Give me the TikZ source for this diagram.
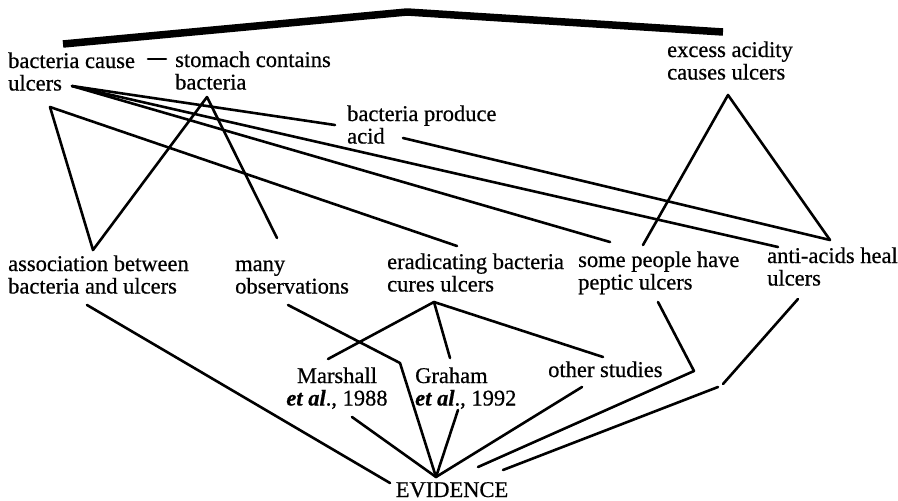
\documentclass[tikz,border=0pt]{standalone}
\usepackage{fontspec}
\setmainfont{Liberation Serif}[FakeBold=0.6]
\newcommand\twoline[2]{\begin{tabular}[t]{@{}l@{}}#1\\#2\end{tabular}}
\newcommand\twolinec[2]{\begin{tabular}[t]{@{}c@{}}#1\\#2\end{tabular}}
\newcommand\myetal{\textbf{\textit{et al}}.}
\begin{document}
\begin{tikzpicture}[x=1pt,y=-1pt,
  lbl/.style={inner sep=0pt, anchor=base west, font=\fontsize{22.5}{22.5}\selectfont},
  lblc/.style={lbl, anchor=base},
  link/.style={line width=2.6pt, line cap=round, line join=round},
  bar/.style={line width=7.5pt, line join=round}]
\useasboundingbox (0,0) rectangle (898,501);
% nodes
\node[lbl] (bc) at (8,68) {\twoline{bacteria cause}{ulcers}};
\node[lbl] (sc) at (175,67) {\twoline{stomach contains}{bacteria}};
\node[lbl] (bp) at (347,121) {\twoline{bacteria produce}{acid}};
\node[lbl] (ea) at (667,57) {\twoline{excess acidity}{causes ulcers}};
\node[lbl] (as) at (8,271) {\twoline{association between}{bacteria and ulcers}};
\node[lbl] (mo) at (235,271) {\twoline{many}{observations}};
\node[lbl] (er) at (387,269) {\twoline{eradicating bacteria}{cures ulcers}};
\node[lbl] (sp) at (578,267) {\twoline{some people have}{peptic ulcers}};
\node[lbl] (aa) at (767,263) {\twoline{anti-acids heal}{ulcers}};
\node[lblc] (ms) at (337,383) {\twolinec{Marshall}{\myetal, 1988}};
\node[lbl] (gr) at (415,383) {\twoline{Graham}{\myetal, 1992}};
\node[lbl] (os) at (548,377) {other studies};
\node[lblc] (ev) at (452,497) {EVIDENCE};
% attachment points
\coordinate (bcR) at ([shift={(64,18)}]bc.base west);
\coordinate (bcD) at ([shift={(42,39)}]bc.base west);
\coordinate (bcS) at ([shift={(140,-9)}]bc.base west);
\coordinate (scL) at ([shift={(-9,-8)}]sc.base west);
\coordinate (scD) at ([shift={(32,30)}]sc.base west);
\coordinate (bpL) at ([shift={(-12,4)}]bp.base west);
\coordinate (bpR) at ([shift={(56,17)}]bp.base west);
\coordinate (eaD) at ([shift={(61,38)}]ea.base west);
\coordinate (asU) at ([shift={(85,-21)}]as.base west);
\coordinate (asD) at ([shift={(79,34)}]as.base west);
\coordinate (moU) at ([shift={(42,-33)}]mo.base west);
\coordinate (moD) at ([shift={(53,34)}]mo.base west);
\coordinate (erU) at ([shift={(70,-23)}]er.base west);
\coordinate (erD) at ([shift={(47,33)}]er.base west);
\coordinate (spU1) at ([shift={(32,-25)}]sp.base west);
\coordinate (spU2) at ([shift={(65,-22)}]sp.base west);
\coordinate (spD) at ([shift={(80,35)}]sp.base west);
\coordinate (aaU1) at ([shift={(11,-16)}]aa.base west);
\coordinate (aaU2) at ([shift={(63,-23)}]aa.base west);
\coordinate (aaD) at ([shift={(31,36)}]aa.base west);
\coordinate (msU) at ([shift={(-9,-24)}]ms.base);
\coordinate (msD) at ([shift={(15,34)}]ms.base);
\coordinate (grU) at ([shift={(35,-25)}]gr.base west);
\coordinate (grD) at ([shift={(43,27)}]gr.base west);
\coordinate (osU) at ([shift={(55,-20)}]os.base west);
\coordinate (osD) at ([shift={(34,10)}]os.base west);
\coordinate (evT) at ([shift={(-16,-20)}]ev.base);
\coordinate (evL) at ([shift={(-62,-14)}]ev.base);
\coordinate (evR1) at ([shift={(26,-30)}]ev.base);
\coordinate (evR2) at ([shift={(51,-27)}]ev.base);
% bends and bar
\coordinate (moK) at (400,363);
\coordinate (spK) at (694,371);
\coordinate (aaK1) at (723,384);
\coordinate (aaK2) at (718,387);
\coordinate (barL) at (63,44);
\coordinate (barP) at (407,12);
\coordinate (barR) at (723,32);
% connectors
\draw[bar] (barL) -- (barP) -- (barR);
\draw[link] (bcS) -- (scL);
\draw[link] (bcR) -- (bpL);
\draw[link] (bcR) -- (spU1);
\draw[link] (bcR) -- (aaU1);
\draw[link] (bcD) -- (asU) -- (scD);
\draw[link] (bcD) -- (erU);
\draw[link] (scD) -- (moU);
\draw[link] (bpR) -- (aaU2);
\draw[link] (spU2) -- (eaD) -- (aaU2);
\draw[link] (asD) -- (evL);
\draw[link] (moD) -- (moK) -- (evT);
\draw[link] (msU) -- (erD) -- (grU);
\draw[link] (erD) -- (osU);
\draw[link] (msD) -- (evT);
\draw[link] (grD) -- (evT);
\draw[link] (osD) -- (evT);
\draw[link] (spD) -- (spK) -- (evR1);
\draw[link] (aaD) -- (aaK1);
\draw[link] (aaK2) -- (evR2);
\end{tikzpicture}
\end{document}
